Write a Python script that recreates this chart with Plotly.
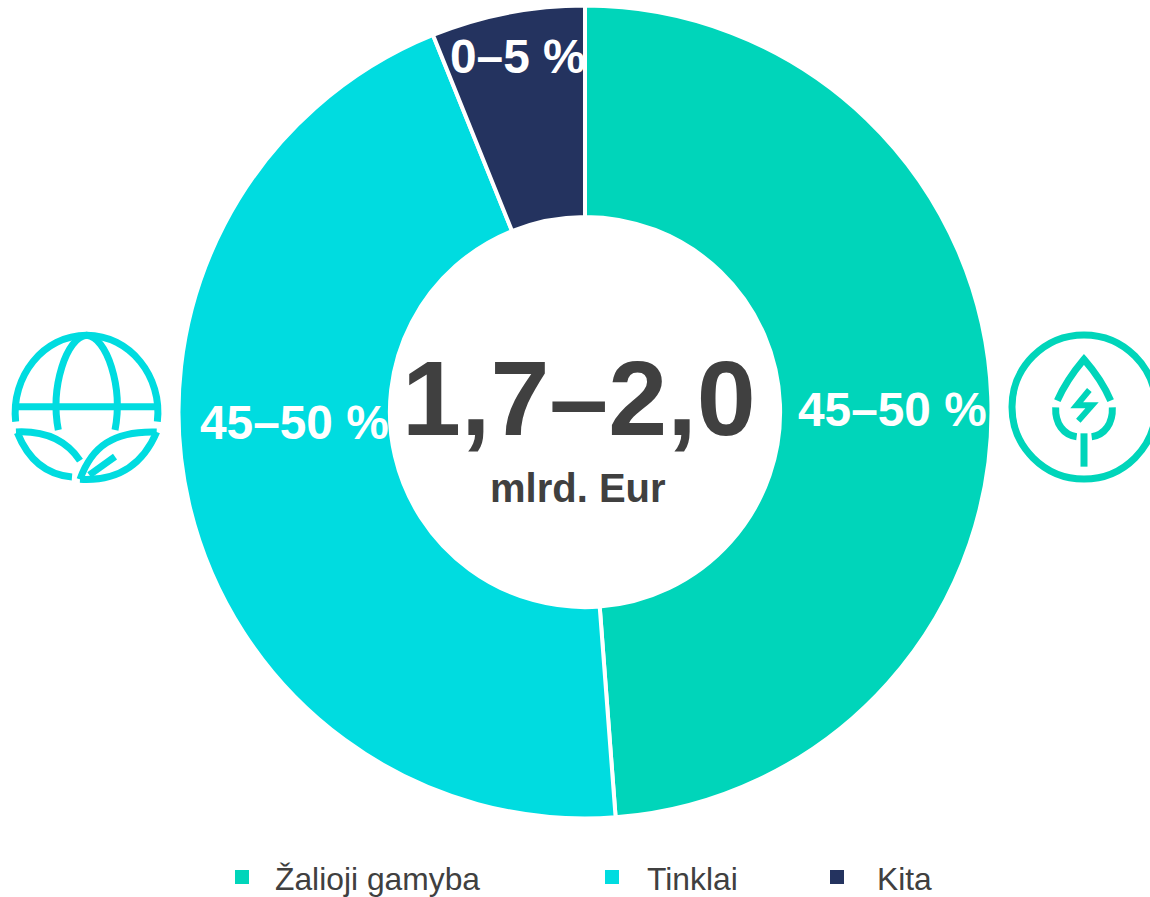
import plotly.graph_objects as go

W, H = 1150, 897
categories = ["Žalioji gamyba", "Tinklai", "Kita"]
shares = [48.8, 45.1, 6.1]
share_labels = ["45–50 %", "45–50 %", "0–5 %"]
colors = ["#00D5BA", "#00DCE0", "#24335F"]
centre_value = "1,7–2,0"
centre_unit = "mlrd. Eur"
FONT = "Liberation Sans"
DARK = "#404040"
CX, CY, R = 585, 412, 406.5


def px(x):
    return x / W


def py(y):
    return 1 - y / H


def path(*cmds):
    out = []
    for c in cmds:
        letter = c[0]
        nums = c[1:]
        pts = [f"{px(nums[i]):.5f},{py(nums[i + 1]):.5f}" for i in range(0, len(nums), 2)]
        out.append(letter + " ".join(pts))
    return " ".join(out)


def z(x, y, ox, oy=320):
    return (ox + x / 3, oy + y / 3)


def zp(ox, first, *curves):
    cmds = [("M",) + z(*first, ox)]
    for cur in curves:
        if len(cur) == 2:
            cmds.append(("L",) + z(*cur, ox))
        else:
            a = z(cur[0], cur[1], ox)
            b = z(cur[2], cur[3], ox)
            c = z(cur[4], cur[5], ox)
            cmds.append(("C",) + a + b + c)
    return path(*cmds)


shapes = []


def stroke(d, color, w=7):
    shapes.append(dict(type="path", xref="paper", yref="paper", path=d,
                       line=dict(color=color, width=w), layer="above"))


# Globe icon
c = colors[1]
stroke(zp(0, (47, 305), (32, 170, 130, 46, 260, 46), (390, 46, 488, 170, 472, 305)), c)
stroke(zp(0, (48, 260), (472, 260)), c)
stroke(zp(0, (175, 330), (150, 200, 200, 50, 260, 46), (320, 50, 370, 200, 345, 330)), c)
stroke(zp(0, (48, 336), (130, 332, 195, 355, 240, 422)), c)
stroke(zp(0, (52, 338), (85, 420, 140, 465, 216, 471)), c)
stroke(zp(0, (470, 336), (340, 332, 275, 380, 240, 478)), c)
stroke(zp(0, (470, 336), (430, 430, 360, 485, 240, 478)), c)
stroke(zp(0, (345, 410), (268, 465)), c)

# Leaf and bolt icon
c = colors[0]
shapes.append(dict(type="circle", xref="paper", yref="paper", x0=px(1012), x1=px(1156),
                   y0=py(335), y1=py(479), line=dict(color=c, width=7), layer="above"))
stroke(zp(1000, (172, 242), (195, 190, 225, 150, 252, 118), (280, 150, 310, 190, 332, 242)), c)
stroke(zp(1000, (167, 262), (165, 310, 190, 345, 230, 350)), c)
stroke(zp(1000, (337, 262), (339, 310, 314, 345, 275, 350)), c)
stroke(zp(1000, (252, 340), (252, 440)), c)
stroke(zp(1000, (268, 210), (230, 256), (276, 256), (235, 302)), c, 6)

# Legend
legend_marks = [235, 605, 830]
legend_texts = [273, 645, 875]
annotations = []
for cat, col, mx, tx in zip(categories, colors, legend_marks, legend_texts):
    shapes.append(dict(type="rect", xref="paper", yref="paper", x0=px(mx), x1=px(mx + 14),
                       y0=py(870), y1=py(884), fillcolor=col, line=dict(width=0)))
    annotations.append(dict(x=px(tx), y=py(879), xref="paper", yref="paper", text=cat, showarrow=False,
                            xanchor="left", yanchor="middle",
                            font=dict(family=FONT, size=31.8, color=DARK)))

# Slice labels
label_pos = [(892, 409), (294, 422), (518, 57)]
for t, (x, y) in zip(share_labels, label_pos):
    annotations.append(dict(x=px(x), y=py(y), xref="paper", yref="paper", text=f"<b>{t}</b>", showarrow=False,
                            xanchor="center", yanchor="middle",
                            font=dict(family=FONT, size=47.8, color="white")))
annotations.append(dict(x=px(579), y=py(398), xref="paper", yref="paper", text=f"<b>{centre_value}</b>",
                        xanchor="center", yanchor="middle",
                        showarrow=False, font=dict(family=FONT, size=106, color=DARK)))
annotations.append(dict(x=px(578), y=py(488), xref="paper", yref="paper", text=f"<b>{centre_unit}</b>",
                        xanchor="center", yanchor="middle",
                        showarrow=False, font=dict(family=FONT, size=40, color=DARK)))

fig = go.Figure(go.Pie(
    labels=categories, values=shares, sort=False, direction="clockwise", rotation=0, hole=0.48,
    marker=dict(colors=colors, line=dict(color="white", width=4)),
    textinfo="none", hoverinfo="label",
    domain=dict(x=[px(CX - R), px(CX + R)], y=[py(CY + R), py(CY - R)]),
))
fig.update_layout(width=W, height=H, margin=dict(l=0, r=0, t=0, b=0), showlegend=False,
                  paper_bgcolor="white", shapes=shapes, annotations=annotations,
                  font=dict(family=FONT))
fig.write_html("out.html", post_script="document.body.style.margin='0';",
               config=dict(displayModeBar=False))
